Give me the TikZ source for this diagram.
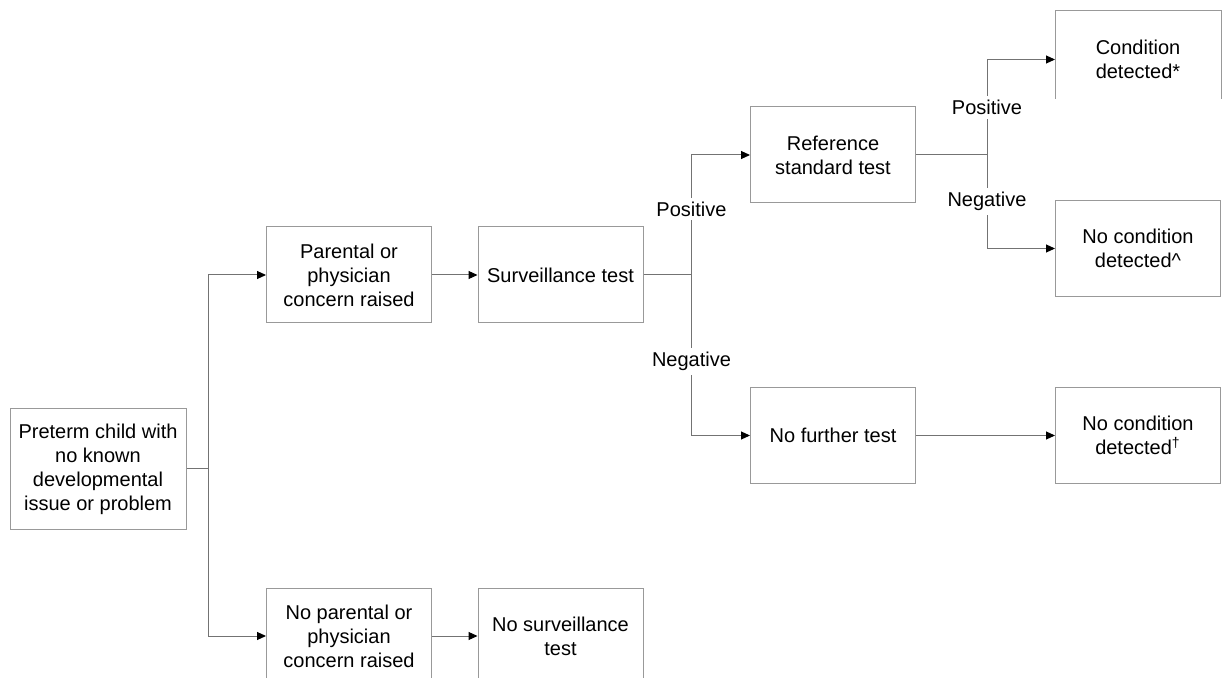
\documentclass[tikz,border=0pt]{standalone}
\usepackage{fontspec}
\setmainfont{Liberation Sans}
\usetikzlibrary{arrows.meta}

\begin{document}
\begin{tikzpicture}[x=0.5pt,y=-0.5pt,
    >={Triangle[length=4.5pt,width=4pt,black]},
    line/.style={draw=black!55, line width=0.5pt},
    box/.style={rectangle,
        draw=black!40,
        line width=0.5pt,
        minimum width=82.5pt,
        minimum height=48pt,
        inner sep=0pt,
        align=center,
        font=\fontsize{10}{12}\selectfont},
    lbl/.style={fill=white, inner sep=2pt, font=\fontsize{10}{12}\selectfont}]

    \useasboundingbox (0,0) rectangle (1226,678);

    \node[box,
          minimum width=88pt,
          minimum height=60pt
          ] (start) at (98,469) {Preterm child with\\no known\\developmental\\issue or problem};

    \node[box] (concern) at (349,275) {Parental or\\physician\\concern raised};
    \node[box] (surv) at (560.5,275) {Surveillance test};

    \node[box] (noconcern) at (349,636) {No parental or\\physician\\concern raised};
    \node[box] (nosurv) at (560.5,636) {No surveillance\\test};

    \node[box] (refstd) at (833,155) {Reference\\standard test};
    \node[box] (nofurther) at (833,435.5) {No further test};

    \node[box, draw=none] (conddet) at (1138,59.5) {Condition\\detected*};
    \node[box] (nocond1) at (1138,248.5) {No condition\\detected\textasciicircum};
    \node[box] (nocond2) at (1138,435.5) {No condition\\detected\textsuperscript{\textdagger}};

    % open box, bottom cut off
    \draw[black!40, line width=0.5pt]
        ([yshift=4.5pt]conddet.south west) -- (conddet.north west)
        -- (conddet.north east) -- ([yshift=4.5pt]conddet.south east);

    % first split
    \draw[line] (start.east) -- ++(22,0) coordinate (split1);
    \draw[line,->] (split1) |- (concern.west);
    \draw[line,->] (split1) |- (noconcern.west);
    \draw[line,->] (concern) -- (surv);
    \draw[line,->] (noconcern) -- (nosurv);

    % surveillance result
    \draw[line] (surv.east) -- ++(48,0) coordinate (split2);
    \draw[line,->] (split2) |- (refstd.west)
        node[lbl, pos=0.275] (pos1) {Positive};
    \draw[line,->] (split2) |- (nofurther.west)
        node[lbl, pos=0.27] (neg1) {Negative};
    \draw[line,->] (nofurther) -- (nocond2);

    % reference result
    \draw[line] (refstd.east) -- ++(71,0) coordinate (split3);
    \draw[line,->] (split3) |- (conddet.west)
        node[lbl, pos=0.25] (pos2) {Positive};
    \draw[line,->] (split3) |- (nocond1.west)
        node[lbl, pos=0.25] (neg2) {Negative};

\end{tikzpicture}
\end{document}
